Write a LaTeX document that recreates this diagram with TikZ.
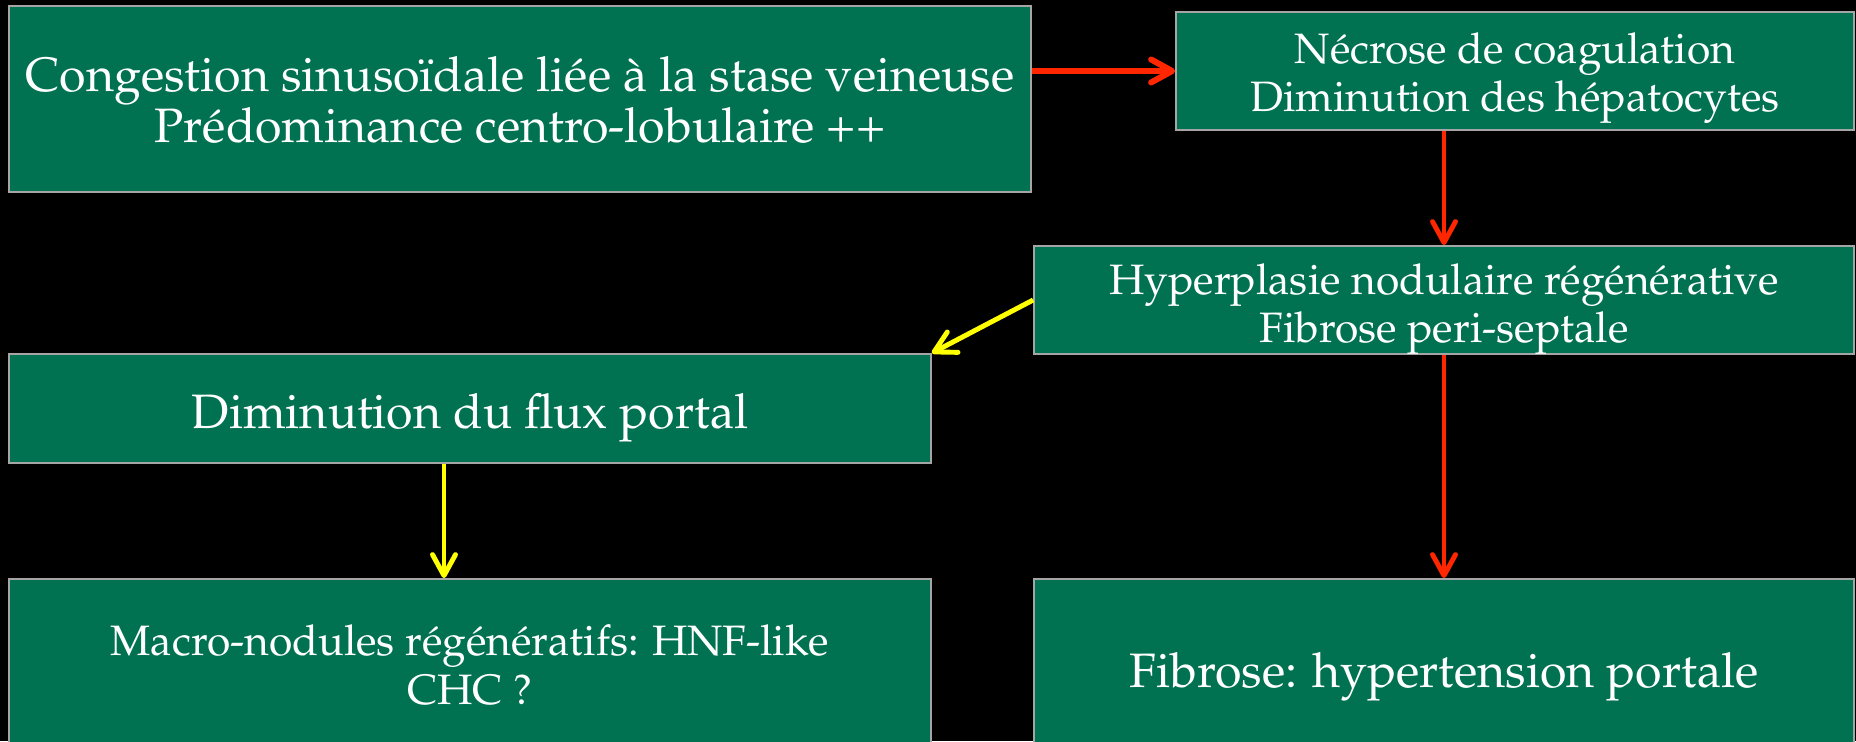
\documentclass[tikz,border=0pt]{standalone}
\usepackage[T1]{fontenc}
\usepackage{mathpazo}
\usetikzlibrary{arrows.meta,calc}
\definecolor{boxgreen}{RGB}{0,114,81}
\definecolor{boxedge}{RGB}{165,165,165}
\definecolor{arrred}{RGB}{255,38,0}
\definecolor{arryel}{RGB}{255,255,0}
\tikzset{box/.style={draw=boxedge, line width=1.1pt, fill=boxgreen, inner sep=0pt}}
\tikzset{big/.style={text=white, align=center, inner sep=0pt, font=\fontsize{27.5}{26.8}\selectfont}}
\tikzset{small/.style={text=white, align=center, inner sep=0pt, font=\fontsize{24.2}{27.6}\selectfont}}
\tikzset{tip/.style={-{Straight Barb[length=0.42cm, width=0.46cm, round]}}}
\tikzset{R/.style={tip, draw=arrred, line width=2.8pt}}
\tikzset{Y/.style={tip, draw=arryel, line width=2.8pt}}

\begin{document}
\begin{tikzpicture}[x=0.02cm, y=-0.02cm]
\fill[black] (0,0) rectangle (1856,741);
\clip (0,0) rectangle (1856,741);
% boxes
\node[box, minimum width=20.44cm, minimum height=3.72cm] (cong) at (520,99) {};
\node[box, minimum width=13.56cm, minimum height=2.36cm] (necr) at (1515,71) {};
\node[box, minimum width=16.4cm, minimum height=2.16cm] (hnr) at (1444,300) {};
\node[box, minimum width=18.44cm, minimum height=2.18cm] (flux) at (470,408.5) {};
\node[box, minimum width=18.44cm, minimum height=3.32cm] (macro) at (470,662) {};
\node[box, minimum width=16.4cm, minimum height=3.32cm] (fib) at (1444,662) {};
% texts
\node[big] (cong-t) at ($(cong.center)+(0,1)$) {Congestion sinuso\"idale li\'ee \`a la stase veineuse\\Pr\'edominance centro-lobulaire ++};
\node[small] (necr-t) at ($(necr.center)+(0,7)$) {N\'ecrose de coagulation\\Diminution des h\'epatocytes};
\node[small] (hnr-t) at ($(hnr.center)+(0,9)$) {Hyperplasie nodulaire r\'eg\'en\'erative\\Fibrose peri-septale};
\node[big] (flux-t) at ($(flux.center)+(0,9)$) {Diminution du flux portal};
\node[small] (macro-t) at ($(macro.center)+(0,3)$) {Macro-nodules r\'eg\'en\'eratifs: HNF-like\\CHC ?};
\node[big] (fib-t) at ($(fib.center)+(0,15)$) {Fibrose: hypertension portale};
% red path
\draw[R, line width=3.4pt] (cong.east |- necr.west) -- (necr.west);
\draw[R] (necr.south -| hnr.north) -- (hnr.north);
\draw[R] (hnr.south) -- (fib.north);
% yellow path
\draw[Y] (hnr.west) -- (flux.north east);
\draw[Y] ($(flux.south)+(-26,0)$) -- ($(macro.north)+(-26,0)$);
\end{tikzpicture}
\end{document}
